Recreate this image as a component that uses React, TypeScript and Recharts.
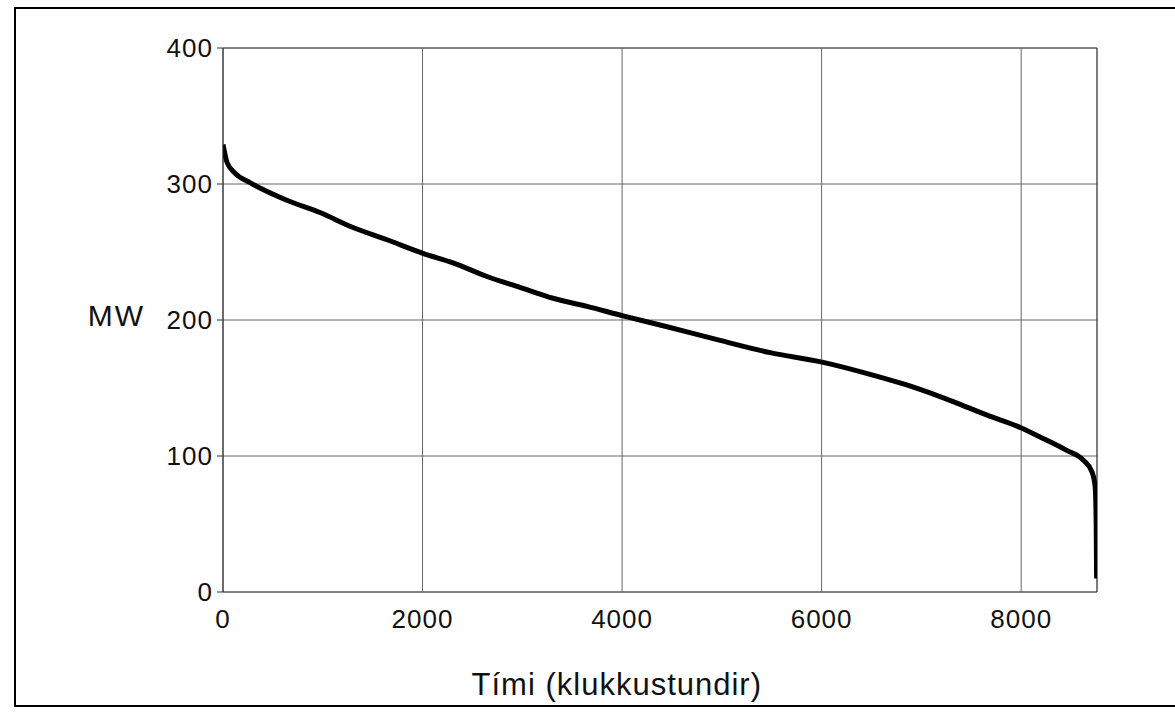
import React from 'react';
import { LineChart, Line, XAxis, YAxis, CartesianGrid, ReferenceLine } from 'recharts';

// load duration curve, hours sorted by load
const hours = [0, 40, 120, 270, 640, 972, 1303, 1644, 2005, 2306, 2646, 2977, 3308, 3649, 4010, 4451, 4982, 5484, 6005, 6486, 6987, 7318, 7659, 7990, 8190, 8461, 8622, 8712, 8742, 8752, 8756];
const mw = [329, 316, 308, 301, 288, 279, 268, 259, 249, 242, 232, 224, 216, 210, 203, 195, 185, 176, 169, 160, 149, 140, 130, 121, 114, 104, 97, 88, 77, 50, 10];

const xTicks = [0, 2000, 4000, 6000, 8000];
const yTicks = [0, 100, 200, 300, 400];

const chartData = hours.map((h, i) => ({ h, mw: mw[i] }));

const font = '"Liberation Sans", Arial, Helvetica, sans-serif';
const tickStyle = { fontSize: 26, fill: '#111', fontFamily: font, letterSpacing: 1 };

const App: React.FC = () => {
  return (
    <div style={{ position: 'fixed', left: 0, top: 0, width: 1175, height: 720, overflow: 'hidden', background: '#fff' }}>
      <div style={{ position: 'absolute', left: 14, top: 7, width: 1200, height: 700, border: '2px solid #000', boxSizing: 'border-box' }} />
      <div style={{ position: 'absolute', left: 0, top: 0 }}>
        <LineChart width={1175} height={720} data={chartData} margin={{ top: 48, right: 78, left: 163, bottom: 88 }}>
          <CartesianGrid stroke="#666" strokeWidth={1} />
          <XAxis
            dataKey="h"
            type="number"
            domain={[0, 8760]}
            ticks={xTicks}
            allowDataOverflow
            height={40}
            tickLine={false}
            tickSize={6}
            tickMargin={12}
            axisLine={{ stroke: '#555' }}
            tick={tickStyle}
          />
          <YAxis
            type="number"
            domain={[0, 400]}
            ticks={yTicks}
            width={60}
            tickSize={6}
            tickMargin={4}
            tickLine={{ stroke: '#333' }}
            axisLine={{ stroke: '#222' }}
            tick={tickStyle}
          />
          <ReferenceLine x={8760} stroke="#444" />
          <ReferenceLine y={400} stroke="#555" />
          <Line
            type="monotone"
            dataKey="mw"
            stroke="#000"
            strokeWidth={5}
            dot={false}
            isAnimationActive={false}
          />
        </LineChart>
      </div>
      <div style={{ position: 'absolute', left: 0, width: 145, top: 300, textAlign: 'right', fontFamily: font, fontSize: 30, letterSpacing: 2, color: '#111', lineHeight: '32px' }}>MW</div>
      <div style={{ position: 'absolute', left: 0, width: 762, top: 667, textAlign: 'right', fontFamily: font, fontSize: 31, letterSpacing: 1, color: '#111' }}>
        Tími (klukkustundir)
      </div>
    </div>
  );
};

export default App;
